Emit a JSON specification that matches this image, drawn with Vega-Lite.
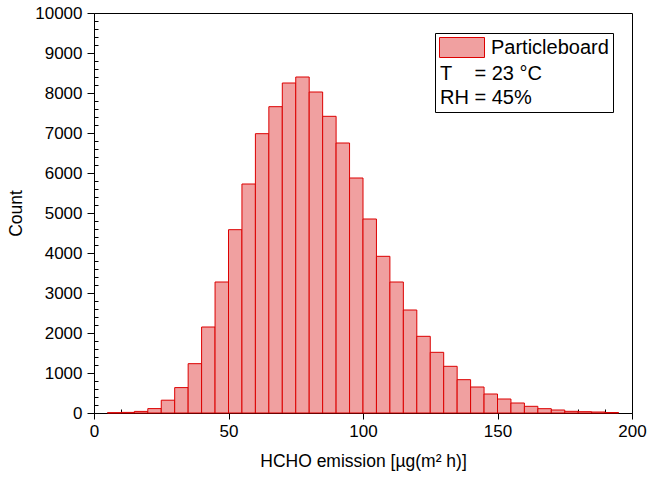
{
  "$schema": "https://vega.github.io/schema/vega-lite/v6.json",
  "width": 538,
  "height": 400,
  "autosize": "none",
  "padding": {"left": 94, "top": 13, "right": 18, "bottom": 66},
  "config": {
    "font": "Liberation Sans",
    "view": {"stroke": "black", "strokeWidth": 1},
    "axis": {"domainColor": "black", "tickColor": "black", "tickWidth": 1, "labelColor": "black", "titleColor": "black", "grid": false, "labelFont": "Liberation Sans", "titleFont": "Liberation Sans", "titleFontWeight": "normal"}
  },
  "data": {
    "values": [
      {"bin_start": 5, "bin_end": 10, "count": 8},
      {"bin_start": 10, "bin_end": 15, "count": 15},
      {"bin_start": 15, "bin_end": 20, "count": 40},
      {"bin_start": 20, "bin_end": 25, "count": 110},
      {"bin_start": 25, "bin_end": 30, "count": 320},
      {"bin_start": 30, "bin_end": 35, "count": 635},
      {"bin_start": 35, "bin_end": 40, "count": 1233},
      {"bin_start": 40, "bin_end": 45, "count": 2150},
      {"bin_start": 45, "bin_end": 50, "count": 3275},
      {"bin_start": 50, "bin_end": 55, "count": 4583},
      {"bin_start": 55, "bin_end": 60, "count": 5725},
      {"bin_start": 60, "bin_end": 65, "count": 6983},
      {"bin_start": 65, "bin_end": 70, "count": 7658},
      {"bin_start": 70, "bin_end": 75, "count": 8250},
      {"bin_start": 75, "bin_end": 80, "count": 8400},
      {"bin_start": 80, "bin_end": 85, "count": 8025},
      {"bin_start": 85, "bin_end": 90, "count": 7417},
      {"bin_start": 90, "bin_end": 95, "count": 6750},
      {"bin_start": 95, "bin_end": 100, "count": 5875},
      {"bin_start": 100, "bin_end": 105, "count": 4850},
      {"bin_start": 105, "bin_end": 110, "count": 3917},
      {"bin_start": 110, "bin_end": 115, "count": 3275},
      {"bin_start": 115, "bin_end": 120, "count": 2575},
      {"bin_start": 120, "bin_end": 125, "count": 1917},
      {"bin_start": 125, "bin_end": 130, "count": 1517},
      {"bin_start": 130, "bin_end": 135, "count": 1167},
      {"bin_start": 135, "bin_end": 140, "count": 833},
      {"bin_start": 140, "bin_end": 145, "count": 650},
      {"bin_start": 145, "bin_end": 150, "count": 475},
      {"bin_start": 150, "bin_end": 155, "count": 350},
      {"bin_start": 155, "bin_end": 160, "count": 250},
      {"bin_start": 160, "bin_end": 165, "count": 167},
      {"bin_start": 165, "bin_end": 170, "count": 108},
      {"bin_start": 170, "bin_end": 175, "count": 75},
      {"bin_start": 175, "bin_end": 180, "count": 42},
      {"bin_start": 180, "bin_end": 185, "count": 33},
      {"bin_start": 185, "bin_end": 190, "count": 25},
      {"bin_start": 190, "bin_end": 195, "count": 12}
    ]
  },
  "mark": {"type": "bar", "stroke": "#dc0000", "strokeWidth": 1, "opacity": 1, "orient": "vertical"},
  "encoding": {
    "x": {
      "field": "bin_start",
      "type": "quantitative",
      "scale": {"domain": [0, 200], "nice": false, "zero": false, "padding": 0},
      "axis": {
        "orient": "bottom",
        "title": "HCHO emission [µg(m² h)]",
        "titleFontSize": 17.5,
        "titlePadding": 13,
        "labelFontSize": 17,
        "values": [0,10,20,30,40,50,60,70,80,90,100,110,120,130,140,150,160,170,180,190,200],
        "labelExpr": "datum.value % 50 === 0 ? datum.label : ''",
        "format": "d",
        "tickSize": {"condition": {"test": "datum.value % 50 === 0", "value": 6}, "value": -4},
        "labelPadding": 4,
        "labelFlush": false,
        "labelOverlap": false
      }
    },
    "x2": {"field": "bin_end"},
    "y": {
      "field": "count",
      "type": "quantitative",
      "scale": {"domain": [0, 10000], "nice": false, "padding": 0},
      "axis": {
        "orient": "left",
        "title": "Count",
        "titleFontSize": 17.5,
        "titlePadding": 9,
        "labelFontSize": 17,
        "values": [0,200,400,600,800,1000,1200,1400,1600,1800,2000,2200,2400,2600,2800,3000,3200,3400,3600,3800,4000,4200,4400,4600,4800,5000,5200,5400,5600,5800,6000,6200,6400,6600,6800,7000,7200,7400,7600,7800,8000,8200,8400,8600,8800,9000,9200,9400,9600,9800,10000],
        "labelExpr": "datum.value % 1000 === 0 ? datum.label : ''",
        "format": "d",
        "tickSize": {"condition": {"test": "datum.value % 1000 === 0", "value": 7}, "value": -4},
        "labelPadding": 5,
        "labelFlush": false,
        "labelOverlap": false
      }
    },
    "y2": {"datum": 0},
    "color": {
      "datum": "Particleboard",
      "type": "nominal",
      "scale": {"domain": ["Particleboard", "T\u00a0\u00a0\u00a0\u00a0= 23 °C", "RH = 45%"], "range": ["#f0a0a0", "#ffffff", "#ffffff"]},
      "legend": {
        "title": null,
        "orient": "none",
        "legendX": 341,
        "legendY": 20,
        "padding": 4,
        "strokeColor": "black",
        "fillColor": "white",
        "labelFontSize": 20,
        "labelColor": "black",
        "labelFont": "Liberation Sans",
        "symbolType": "M-1,-1H3.5V1H-1Z",
        "symbolSize": 400,
        "symbolStrokeColor": "#dc0000",
        "symbolStrokeWidth": 1,
        "symbolOpacity": 1,
        "labelOffset": 31,
        "rowPadding": 3,
        "encode": {
          "symbols": {"update": {"opacity": {"signal": "datum.value === 'Particleboard' ? 1 : 0"}}},
          "labels": {"update": {"dx": {"signal": "datum.value === 'Particleboard' ? 0 : -51"}}}
        }
      }
    }
  }
}
